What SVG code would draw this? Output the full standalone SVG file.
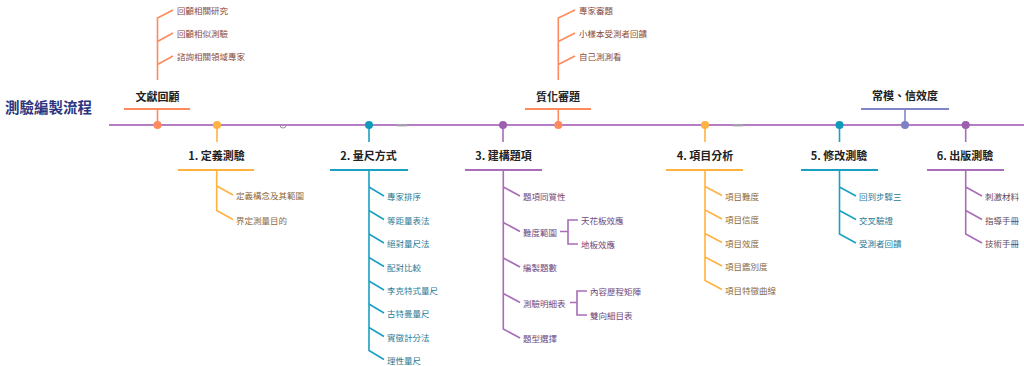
<svg xmlns="http://www.w3.org/2000/svg" width="1024" height="366" viewBox="0 0 1024 366">
<style>
text{font-family:"Noto Sans CJK TC","Noto Sans CJK SC",sans-serif;dominant-baseline:central}
.title{font-size:14.5px;font-weight:bold;fill:#2b3580}
.lbl{font-size:11px;font-weight:bold;fill:#222;text-anchor:middle}
.c{font-size:8.5px}
.ln{fill:none;stroke-width:1.6}
.bar{stroke-width:2.2}
.coral{stroke:#ff8a5b}.yel{stroke:#ffb23f}.teal{stroke:#1ca0c2}.pur{stroke:#a86cb8}.peri{stroke:#7f86c8}
.tc{fill:#8a4b3b}.ty{fill:#8a6a42}.tt{fill:#2a7b96}.tp{fill:#6e4a7e}.tg{fill:#5c4a62}
</style>
<rect width="1024" height="366" fill="#ffffff"/>
<text class="title" x="5" y="106">測驗編製流程</text>
<g id="connectors">
<line x1="109" y1="125" x2="1024" y2="125" stroke="#b57ec4" stroke-width="2"/>
<!-- top 1 -->
<line class="ln coral" x1="157.5" y1="109" x2="157.5" y2="125"/>
<path class="ln coral" d="M157.5 80V18L173 10M157.5 41.5L173 33M157.5 64.5L173 56"/>
<!-- top 2 -->
<line class="ln coral" x1="558.3" y1="109" x2="558.3" y2="125"/>
<path class="ln coral" d="M558.3 80V18L575 10M558.3 41.5L575 33M558.3 64.5L575 56"/>
<!-- top 3 -->
<line class="ln peri" x1="905" y1="109" x2="905" y2="125"/>
<!-- bottom 1 -->
<line class="ln yel" x1="217" y1="125" x2="217" y2="142"/>
<path class="ln yel" d="M216.7 170V210.5L233 219.5M216.7 186L233 195"/>
<!-- bottom 2 -->
<line class="ln teal" x1="369" y1="125" x2="369" y2="142"/>
<path class="ln teal" d="M369 170V350.5L384 359.5M369 187L384 196M369 210.5L384 219.5M369 234L384 243M369 257.5L384 266.5M369 281L384 290M369 304L384 313M369 327.5L384 336.5"/>
<!-- bottom 3 -->
<line class="ln pur" x1="503" y1="125" x2="503" y2="142"/>
<path class="ln pur" d="M503.3 170V329L520 338M503.3 187L520 196M503.3 222.5L520 231.5M503.3 258L520 267M503.3 293.5L520 302.5"/>
<path class="ln pur" d="M560 231.5H568M578 220H568V244H578"/>
<path class="ln pur" d="M570 302.5H577M587 291H577V315H587"/>
<!-- bottom 4 -->
<line class="ln yel" x1="705" y1="125" x2="705" y2="142"/>
<path class="ln yel" d="M705 170V280.5L722 289.5M705 186.5L722 195.5M705 210L722 219M705 233.5L722 242.5M705 257L722 266"/>
<!-- bottom 5 -->
<line class="ln teal" x1="839.5" y1="125" x2="839.5" y2="142"/>
<path class="ln teal" d="M839.5 170V234L856 243M839.5 187L856 196M839.5 210.5L856 219.5"/>
<!-- bottom 6 -->
<line class="ln pur" x1="965.7" y1="125" x2="965.7" y2="142"/>
<path class="ln pur" d="M965.7 170V234L982 243M965.7 187L982 196M965.7 210.5L982 219.5"/>
</g>
<g id="marks">
<path d="M280 125.5a3 2.5 0 0 0 6 0" fill="none" stroke="#9a8aa8" stroke-width="1"/>
<rect x="397" y="124" width="10" height="2.4" fill="#a8a0b0"/>
<rect x="733" y="124" width="10" height="2.4" fill="#a8a0b0"/>
</g>
<g id="n-wenxian">
<text class="lbl" x="157.5" y="96">文獻回顧</text>
<line class="bar coral" x1="124" y1="109" x2="190" y2="109"/>
<circle cx="157.5" cy="125" r="4" fill="#ff8a5b"/>
<text class="c tc" x="177" y="10">回顧相關研究</text>
<text class="c tc" x="177" y="33">回顧相似測驗</text>
<text class="c tc" x="177" y="56">諮詢相關領域專家</text>
</g>
<g id="n-zhihua">
<text class="lbl" x="558" y="96">質化審題</text>
<line class="bar coral" x1="525" y1="109" x2="591" y2="109"/>
<circle cx="558.3" cy="125" r="4" fill="#ff8a5b"/>
<text class="c tc" x="579" y="10">專家審題</text>
<text class="c tc" x="579" y="33">小樣本受測者回饋</text>
<text class="c tc" x="579" y="56">自己測測看</text>
</g>
<g id="n-changmo">
<text class="lbl" x="905" y="95">常模、信效度</text>
<line class="bar peri" x1="861" y1="109" x2="949" y2="109"/>
<circle cx="905" cy="125" r="4" fill="#7f80c6"/>
</g>
<g id="n-1">
<circle cx="217" cy="125" r="4" fill="#ffb23f"/>
<text class="lbl" x="216.5" y="155">1. 定義測驗</text>
<line class="bar yel" x1="178" y1="170" x2="254" y2="170"/>
<text class="c ty" x="236" y="195">定義構念及其範圍</text>
<text class="c ty" x="236" y="219.5">界定測量目的</text>
</g>
<g id="n-2">
<circle cx="369" cy="125" r="4" fill="#109ab9"/>
<text class="lbl" x="368.5" y="155">2. 量尺方式</text>
<line class="bar teal" x1="330" y1="170" x2="408" y2="170"/>
<text class="c tt" x="387" y="196">專家排序</text>
<text class="c tt" x="387" y="219.5">等距量表法</text>
<text class="c tt" x="387" y="243">絕對量尺法</text>
<text class="c tt" x="387" y="266.5">配對比較</text>
<text class="c tt" x="387" y="290">李克特式量尺</text>
<text class="c tt" x="387" y="313">古特曼量尺</text>
<text class="c tt" x="387" y="336.5">實徵計分法</text>
<text class="c tt" x="387" y="359.5">理性量尺</text>
</g>
<g id="n-3">
<circle cx="503" cy="125" r="4" fill="#9c5eae"/>
<text class="lbl" x="503.5" y="155">3. 建構題項</text>
<line class="bar pur" x1="465" y1="170" x2="542" y2="170"/>
<text class="c tp" x="523" y="196">題項同質性</text>
<text class="c tp" x="523" y="231.5">難度範圍</text>
<text class="c tp" x="523" y="267">編製題數</text>
<text class="c tp" x="523" y="302.5">測驗明細表</text>
<text class="c tp" x="523" y="338">題型選擇</text>
<text class="c tp" x="581" y="220">天花板效應</text>
<text class="c tp" x="581" y="244">地板效應</text>
<text class="c tp" x="590" y="291">內容歷程矩陣</text>
<text class="c tp" x="590" y="315">雙向細目表</text>
</g>
<g id="n-4">
<circle cx="705" cy="125" r="4" fill="#ffb23f"/>
<text class="lbl" x="705" y="155">4. 項目分析</text>
<line class="bar yel" x1="666" y1="170" x2="743" y2="170"/>
<text class="c ty" x="725" y="195.5">項目難度</text>
<text class="c ty" x="725" y="219">項目信度</text>
<text class="c ty" x="725" y="242.5">項目效度</text>
<text class="c ty" x="725" y="266">項目鑑別度</text>
<text class="c ty" x="725" y="289.5">項目特徵曲線</text>
</g>
<g id="n-5">
<circle cx="839.5" cy="125" r="4" fill="#109ab9"/>
<text class="lbl" x="839" y="155">5. 修改測驗</text>
<line class="bar teal" x1="801" y1="170" x2="878" y2="170"/>
<text class="c tt" x="859" y="196">回到步驟三</text>
<text class="c tt" x="859" y="219.5">交叉驗證</text>
<text class="c tt" x="859" y="243">受測者回饋</text>
</g>
<g id="n-6">
<circle cx="965.7" cy="125" r="4" fill="#9c5eae"/>
<text class="lbl" x="965" y="155">6. 出版測驗</text>
<line class="bar pur" x1="927" y1="170" x2="1004" y2="170"/>
<text class="c tg" x="985" y="196">刺激材料</text>
<text class="c tg" x="985" y="219.5">指導手冊</text>
<text class="c tg" x="985" y="243">技術手冊</text>
</g>
</svg>
